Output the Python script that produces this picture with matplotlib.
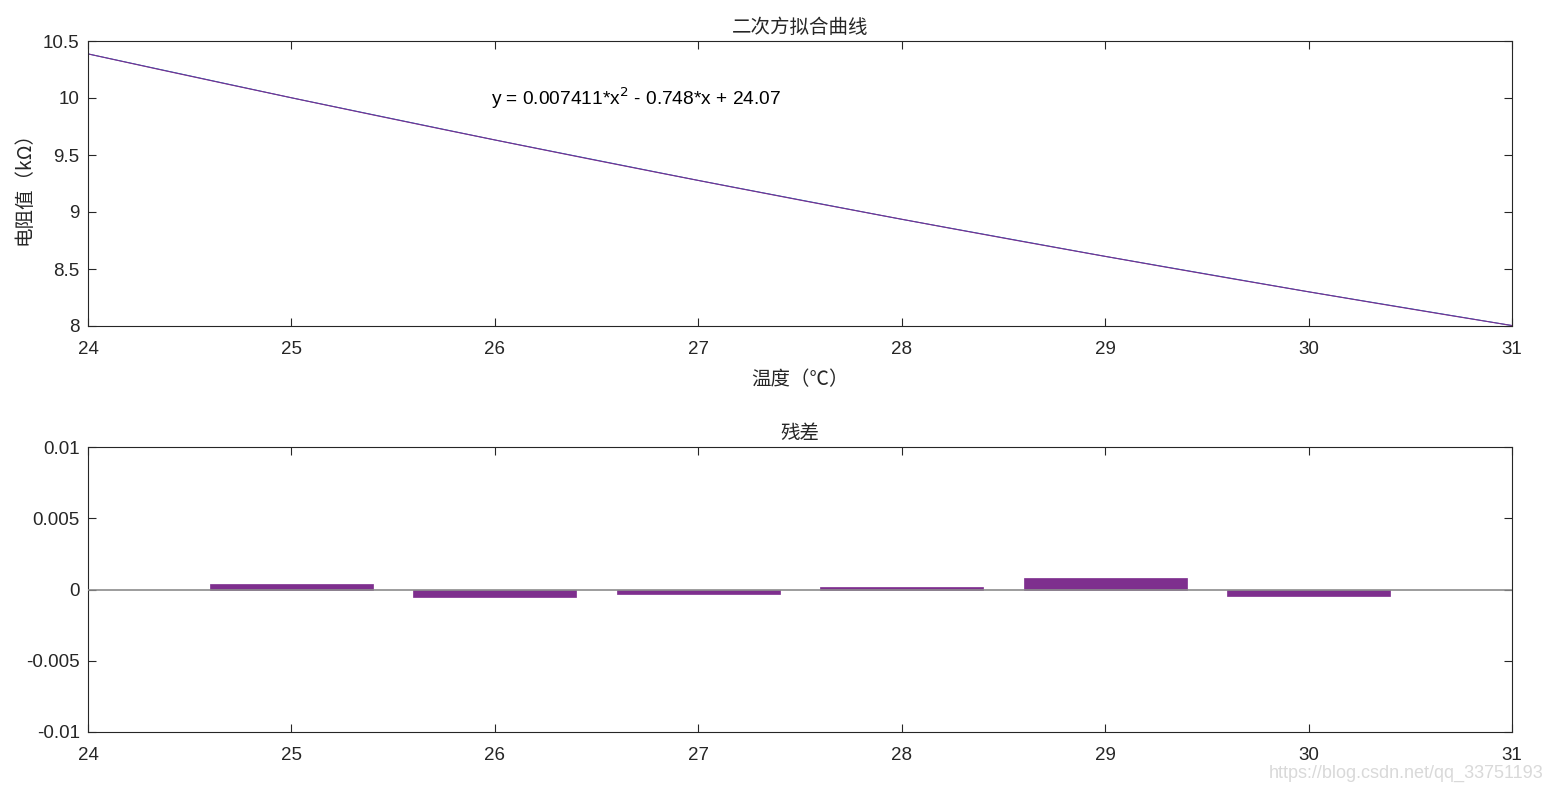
import matplotlib
matplotlib.use("Agg")
import matplotlib.pyplot as plt
import numpy as np

plt.rcParams['font.family'] = ['Liberation Sans', 'Noto Sans CJK SC', 'DejaVu Sans']

temperature = [24, 25, 26, 27, 28, 29, 30, 31]
resistance = [10.387, 10.002, 9.632, 9.277, 8.936, 8.611, 8.300, 8.004]
fit_coeffs = [0.007411, -0.748, 24.07]
res_x = [25, 26, 27, 28, 29, 30]
residuals = [0.0004, -0.0005, -0.0003, 0.0002, 0.0008, -0.00045]

top_title = '二次方拟合曲线'
top_xlabel = '温度（℃）'
top_ylabel = '电阻值（kΩ）'
bottom_title = '残差'
equation = 'y = 0.007411*x$^2$ - 0.748*x + 24.07'
watermark = 'https://blog.csdn.net/qq_33751193'

W, H = 1553, 791
fig = plt.figure(figsize=(W / 100, H / 100), dpi=100)
tc = '#262626'
cjk = ['Noto Sans CJK SC', 'DejaVu Sans']

def style(ax):
    for s in ax.spines.values():
        s.set_color(tc)
        s.set_linewidth(0.8)
    ax.tick_params(direction='in', top=True, right=True, length=6,
                   colors=tc, labelsize=13.5, width=0.8)
    ax.tick_params(axis='x', pad=11)
    ax.tick_params(axis='y', pad=6)

ax1 = fig.add_axes([88 / W, 1 - 326 / H, (1512 - 88) / W, (326 - 41) / H])
xx = np.linspace(temperature[0], temperature[-1], 200)
ax1.plot(temperature, resistance, color='#0072BD', lw=0.7)
ax1.plot(xx, np.polyval(fit_coeffs, xx), color='#7E2F8E', lw=0.8)
ax1.set_xlim(24, 31)
ax1.set_ylim(8, 10.5)
ax1.set_xticks(range(24, 32))
ax1.set_yticks([8, 8.5, 9, 9.5, 10, 10.5])
ax1.set_yticklabels(['8', '8.5', '9', '9.5', '10', '10.5'])
style(ax1)
ax1.set_title(top_title, family=cjk, fontsize=14, color=tc, pad=6)
ax1.set_xlabel(top_xlabel, family=cjk, fontsize=14, color=tc, labelpad=8)
ax1.set_ylabel(top_ylabel, family=cjk, fontsize=14, color=tc, labelpad=6)
ax1.text(25.98, 10, equation, fontsize=13.8, color='black', va='center', ha='left')

ax2 = fig.add_axes([88 / W, 1 - 732 / H, (1512 - 88) / W, (732 - 447) / H])
ax2.bar(res_x, residuals, width=0.8, color='#7E2F8E', edgecolor='#7E2F8E', linewidth=0.5)
ax2.axhline(0, color='#8c8c8c', lw=1.2, zorder=3)
ax2.set_xlim(24, 31)
ax2.set_ylim(-0.01, 0.01)
ax2.set_xticks(range(24, 32))
ax2.set_yticks([-0.01, -0.005, 0, 0.005, 0.01])
ax2.set_yticklabels(['-0.01', '-0.005', '0', '0.005', '0.01'])
style(ax2)
ax2.set_title(bottom_title, family=cjk, fontsize=14, color=tc, pad=6)

fig.text(1543 / W, 1 - 773 / H, watermark, fontsize=13, color='#d9d9d9', ha='right', va='center')

fig.savefig('out.png', dpi=100)
